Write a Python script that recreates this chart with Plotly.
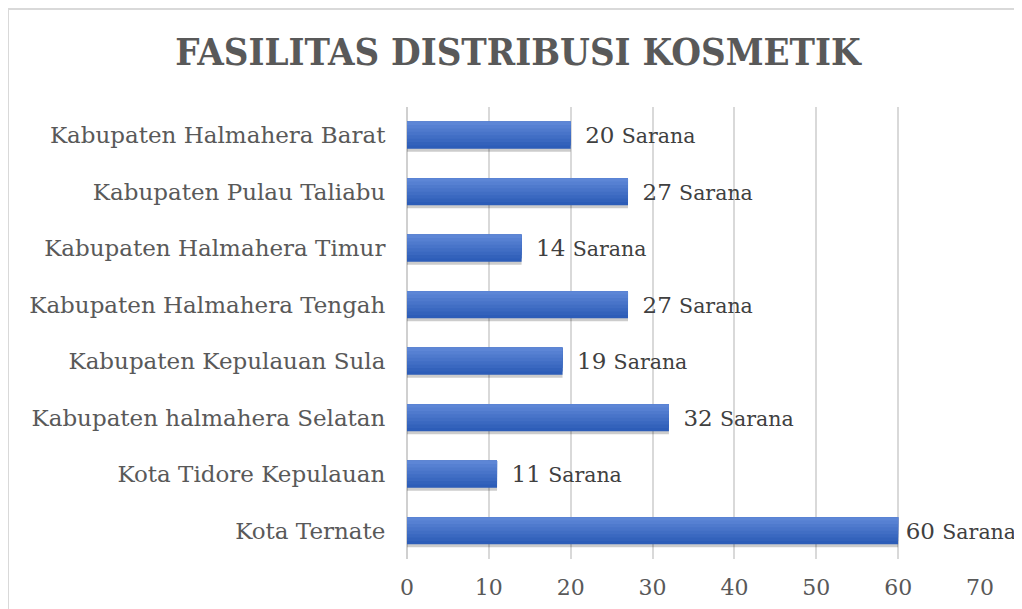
import plotly.graph_objects as go

categories = ["Kota Ternate", "Kota Tidore Kepulauan", "Kabupaten halmahera Selatan",
              "Kabupaten Kepulauan Sula", "Kabupaten Halmahera Tengah",
              "Kabupaten Halmahera Timur", "Kabupaten Pulau Taliabu",
              "Kabupaten Halmahera Barat"]
values = [60, 11, 32, 19, 27, 14, 27, 20]
unit = "Sarana"
title = "FASILITAS DISTRIBUSI KOSMETIK"
x_ticks = [0, 10, 20, 30, 40, 50, 60, 70]

FONT = "DejaVu Serif, serif"
TFONT = "DejaVu Serif Condensed, DejaVu Serif, serif"
BW = 0.48

fig = go.Figure()

# shadow
fig.add_trace(go.Bar(y=categories, x=values, orientation="h", width=BW, offset=-BW/2 - 0.05,
                     marker=dict(color="rgba(0,0,0,0.2)", line_width=0), hoverinfo="skip",
                     showlegend=False))
# base bar with labels (label nudged closer when it would run off the chart)
vmax = max(values)
labels = [("\u2009" if v == vmax else "\u2002") +
          f"{v} <span style='font-size:20.5px'>{unit}</span>" for v in values]
fig.add_trace(go.Bar(y=categories, x=values, orientation="h", width=BW, offset=-BW/2,
                     marker=dict(color="#2d5db8", line_width=0), text=labels,
                     textposition="outside", cliponaxis=False,
                     textfont=dict(family=FONT, size=23, color="#404040"),
                     showlegend=False))
# gradient stripes (bottom dark -> top light)
N = 8
c0 = (0x2c, 0x5c, 0xb7)
c1 = (0x5d, 0x86, 0xd6)
for i in range(1, N):
    t = i / (N - 1)
    col = tuple(round(c0[k] + (c1[k] - c0[k]) * t) for k in range(3))
    h = BW * (N - i) / N
    fig.add_trace(go.Bar(y=categories, x=values, orientation="h", width=h,
                         offset=BW/2 - h,
                         marker=dict(color="rgb(%d,%d,%d)" % col, line_width=0),
                         hoverinfo="skip", showlegend=False))

# page is offset by the 8px body margin
OFF = 8
L, R, T, B = 407 - OFF, 1022 - (980 - OFF), 107 - OFF, 609 - (559 - OFF)
W, H = 1022, 609
pw, ph = W - L - R, H - T - B

fig.update_layout(
    width=W, height=H, barmode="overlay",
    margin=dict(l=L, r=R, t=T, b=B),
    paper_bgcolor="white", plot_bgcolor="white",
    font=dict(family=FONT, color="#595959"),
    title=dict(text=f"<b>{title}</b>", x=(518 - OFF - L) / pw, xref="paper", xanchor="center",
               y=1 - (52 - OFF) / H, yanchor="middle",
               font=dict(family=TFONT, size=38, color="#595959")),
    xaxis=dict(range=[0, 70], tickvals=x_ticks, showgrid=True, gridcolor="#d9d9d9",
               gridwidth=1.5, zeroline=True, zerolinecolor="#d0d0d0", zerolinewidth=1.5,
               ticks="outside", ticklen=9, tickcolor="rgba(0,0,0,0)",
               tickfont=dict(size=22, color="#595959"), fixedrange=True),
    yaxis=dict(categoryorder="array", categoryarray=categories, ticks="outside",
               ticklen=16, tickcolor="rgba(0,0,0,0)",
               tickfont=dict(size=23, color="#595959"), fixedrange=True),
    shapes=[dict(type="rect", xref="paper", yref="paper",
                 x0=(8 - OFF - L) / pw, x1=1 + (R + 20) / pw,
                 y0=-(B + 20) / ph, y1=1 + (T - (9 - OFF)) / ph,
                 line=dict(color="#d9d9d9", width=2), fillcolor="rgba(0,0,0,0)",
                 layer="below")],
)

fig.write_html("out.html")
